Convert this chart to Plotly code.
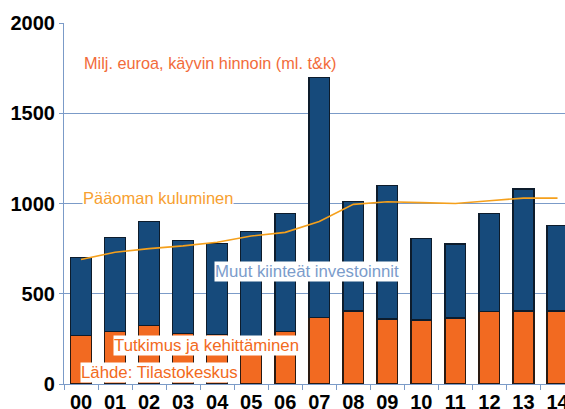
import plotly.graph_objects as go

years = ["00", "01", "02", "03", "04", "05", "06", "07", "08", "09", "10", "11", "12", "13", "14"]
rd = [270, 290, 325, 280, 275, 265, 290, 370, 405, 360, 355, 365, 400, 405, 405]
total = [700, 810, 900, 795, 780, 845, 945, 1700, 1010, 1100, 805, 775, 945, 1080, 880]
other = [t - r for t, r in zip(total, rd)]
depreciation = [690, 730, 750, 765, 785, 820, 840, 900, 995, 1010, 1005, 1000, 1015, 1030, 1030]
y_ticks = [0, 500, 1000, 1500, 2000]

ORANGE = "#f26a21"
BLUE = "#164a7b"
GRID = "#7b9bc8"
FONT = "Liberation Sans, Arial, sans-serif"

fig = go.Figure()
fig.add_trace(go.Bar(x=years, y=rd, marker=dict(color=ORANGE, line=dict(color="#2a1a12", width=1.3)),
                     name="Tutkimus ja kehittäminen"))
fig.add_trace(go.Bar(x=years, y=other, marker=dict(color=BLUE, line=dict(color="#0d1c2c", width=1.3)),
                     name="Muut kiinteät investoinnit"))
fig.add_trace(go.Scatter(x=years, y=depreciation, mode="lines",
                         line=dict(color="#f5a01c", width=1.6), name="Pääoman kuluminen"))

def note(text, x, y, color, size):
    fig.add_annotation(text=text, x=x, y=y, xref="x", yref="y", xanchor="left", yanchor="middle",
                       showarrow=False, font=dict(family=FONT, size=size, color=color),
                       bgcolor="white", borderpad=0)

fig.add_annotation(text="Milj. euroa, käyvin hinnoin (ml. t&k)", x=0.03, y=1780, xref="x", yref="y",
                   xanchor="left", yanchor="middle", showarrow=False,
                   font=dict(family=FONT, size=16.3, color="#f26b3a"))
note("Pääoman kuluminen", 0.03, 1030, "#f7a030", 16.5)
note("Muut kiinteät investoinnit", 3.92, 622, "#7b9ccb", 16.8)
note("Tutkimus ja kehittäminen", 0.93, 216, ORANGE, 16.8)
note("Lähde: Tilastokeskus", -0.04, 63, ORANGE, 16.8)

fig.update_layout(
    width=565, height=409,
    margin=dict(l=64, r=0, t=23, b=25, autoexpand=False),
    barmode="stack", bargap=0.39,
    plot_bgcolor="white", paper_bgcolor="white",
    showlegend=False,
    font=dict(family=FONT),
)
fig.update_xaxes(type="category", range=[-0.5, 14.22], showgrid=False, automargin=False,
                 showline=True, linecolor=GRID, linewidth=1.2,
                 ticks="outside", tickson="boundaries", ticklen=5, tickcolor=GRID,
                 tickfont=dict(family=FONT, size=20, color="black", weight="bold"))
fig.update_yaxes(range=[0, 2000], tickvals=y_ticks, showgrid=True, gridcolor=GRID, gridwidth=1.2,
                 showline=True, linecolor=GRID, linewidth=1.2, zeroline=False, automargin=False,
                 ticks="outside", ticklen=4, tickcolor=GRID,
                 tickfont=dict(family=FONT, size=20, color="black", weight="bold"))

fig.write_html("out.html", config={"displayModeBar": False},
               post_script="document.body.style.margin='0px';document.body.style.overflow='hidden';")
